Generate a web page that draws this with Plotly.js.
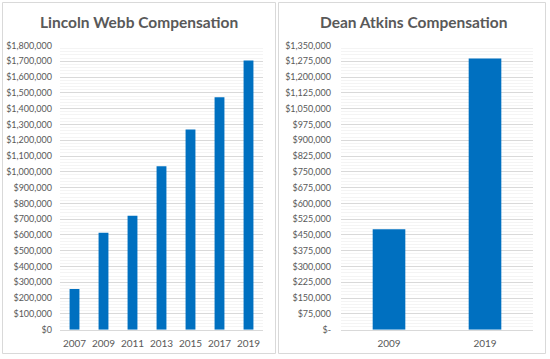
<!DOCTYPE html>
<html>
<head>
<meta charset="utf-8">
<script src="https://cdn.plot.ly/plotly-3.0.1.min.js"></script>
<style>html,body{margin:0;padding:0;background:#fff;}#chart{width:550px;height:359px;}</style>
</head>
<body>
<div id="chart"></div>
<script>
// Data
const webbYears = ['2007', '2009', '2011', '2013', '2015', '2017', '2019'];
const webbComp = [257000, 614000, 722000, 1036000, 1268000, 1473000, 1705000];
const atkinsYears = ['2009', '2019'];
const atkinsComp = [477000, 1288000];
const webbTicks = [0, 100000, 200000, 300000, 400000, 500000, 600000, 700000, 800000, 900000,
  1000000, 1100000, 1200000, 1300000, 1400000, 1500000, 1600000, 1700000, 1800000];
const atkinsTicks = [0, 75000, 150000, 225000, 300000, 375000, 450000, 525000, 600000, 675000,
  750000, 825000, 900000, 975000, 1050000, 1125000, 1200000, 1275000, 1350000];
const webbTitle = 'Lincoln Webb Compensation';
const atkinsTitle = 'Dean Atkins Compensation';

const fmt = v => '$' + v.toLocaleString('en-US');
const webbText = webbTicks.map(fmt);
const atkinsText = atkinsTicks.map(v => v === 0 ? '$-' : fmt(v));

const W = 550, H = 359;
const px = x => x / W;
const py = y => (H - y) / H;

const blue = '#0070C0';
const txt = '#595959';
const font = 'Lato, "Open Sans", sans-serif';

const traces = [
  {type: 'bar', x: webbYears, y: webbComp, xaxis: 'x', yaxis: 'y',
   marker: {color: blue}, hoverinfo: 'none'},
  {type: 'bar', x: atkinsYears, y: atkinsComp, xaxis: 'x2', yaxis: 'y2',
   marker: {color: blue}, hoverinfo: 'none'}
];

const yCommon = {
  showgrid: true, gridcolor: '#d9d9d9', gridwidth: 1,
  zeroline: false, showline: false, ticks: '',
  tickfont: {family: font, size: 9, color: txt},
  ticklabelstandoff: 7
};
const xCommon = {
  type: 'category', showgrid: false, zeroline: false,
  showline: true, linecolor: '#d9d9d9', ticks: '',
  tickfont: {family: font, size: 10, color: txt},
  ticklabelstandoff: 4
};

const layout = {
  width: W, height: H,
  margin: {l: 0, r: 0, t: 0, b: 0},
  paper_bgcolor: '#fff', plot_bgcolor: '#fff',
  showlegend: false,
  bargap: 0.66,
  xaxis: Object.assign({}, xCommon, {domain: [px(60), px(263)], anchor: 'y'}),
  yaxis: Object.assign({}, yCommon, {domain: [py(329.7), py(45.5)], anchor: 'x',
    range: [0, 1800000], tickvals: webbTicks, ticktext: webbText,
    minor: {dtick: 20000, tick0: 0, showgrid: true, gridcolor: '#f4f4f4', gridwidth: 1}}),
  xaxis2: Object.assign({}, xCommon, {domain: [px(341), px(533)], anchor: 'y2'}),
  yaxis2: Object.assign({}, yCommon, {domain: [py(329.7), py(45.5)], anchor: 'x2',
    range: [0, 1350000], tickvals: atkinsTicks, ticktext: atkinsText,
    ticklabelstandoff: 9,
    minor: {dtick: 15000, tick0: 0, showgrid: true, gridcolor: '#f4f4f4', gridwidth: 1}}),
  shapes: [
    {type: 'rect', xref: 'paper', yref: 'paper', x0: px(2.5), x1: px(275.5), y0: py(353.5), y1: py(2.5),
     line: {color: '#d9d9d9', width: 1}, fillcolor: 'rgba(0,0,0,0)', layer: 'below'},
    {type: 'rect', xref: 'paper', yref: 'paper', x0: px(278.5), x1: px(545.5), y0: py(353.5), y1: py(2.5),
     line: {color: '#d9d9d9', width: 1}, fillcolor: 'rgba(0,0,0,0)', layer: 'below'}
  ],
  annotations: [
    {text: '<b>' + webbTitle + '</b>', xref: 'paper', yref: 'paper', x: px(139), y: py(22),
     xanchor: 'center', yanchor: 'middle', showarrow: false,
     font: {family: font, size: 15.5, color: txt}},
    {text: '<b>' + atkinsTitle + '</b>', xref: 'paper', yref: 'paper', x: px(413), y: py(22),
     xanchor: 'center', yanchor: 'middle', showarrow: false,
     font: {family: font, size: 15.5, color: txt}}
  ]
};

Plotly.newPlot('chart', traces, layout, {staticPlot: true, displayModeBar: false});
</script>
</body>
</html>
